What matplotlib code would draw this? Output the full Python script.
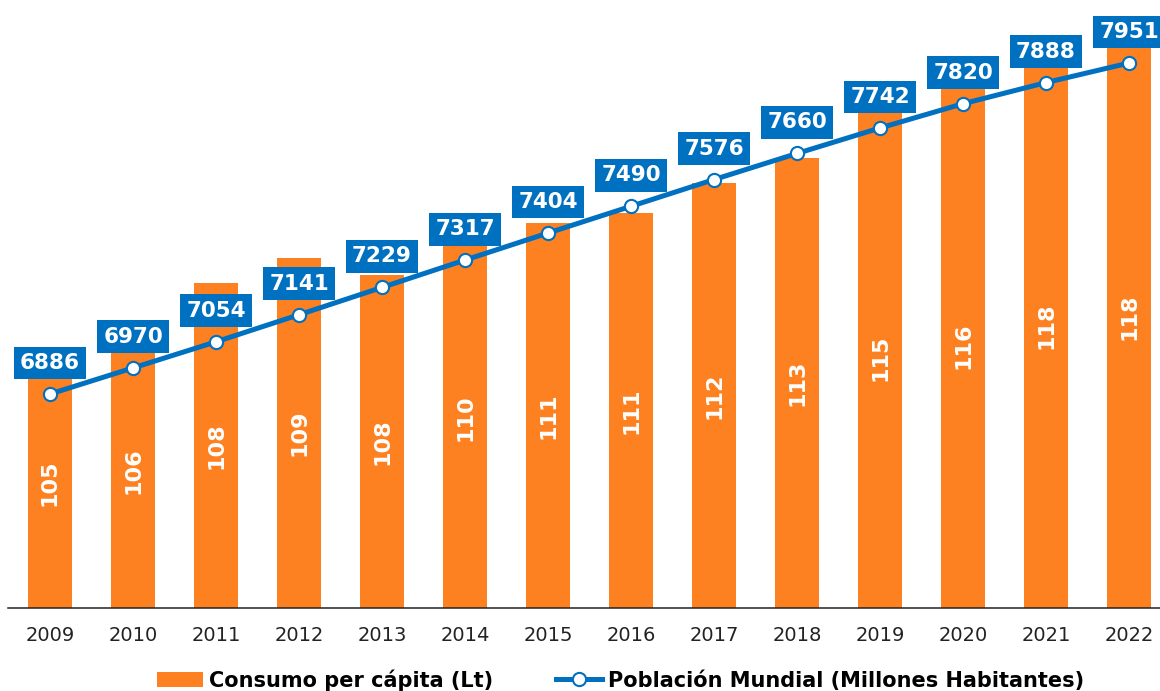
import matplotlib
matplotlib.use("Agg")

import matplotlib.pyplot as plt
import numpy as np

# Data
years = ["2009", "2010", "2011", "2012", "2013", "2014", "2015",
         "2016", "2017", "2018", "2019", "2020", "2021", "2022"]
consumo_label = [105, 106, 108, 109, 108, 110, 111, 111, 112, 113, 115, 116, 118, 118]
consumo = [105.0, 106.0, 108.0, 109.0, 108.3, 110.2, 110.4,
           110.8, 112.0, 113.0, 115.0, 116.0, 117.6, 118.3]
poblacion = [6886, 6970, 7054, 7141, 7229, 7317, 7404,
             7490, 7576, 7660, 7742, 7820, 7888, 7951]

orange = "#FD8021"
blue = "#0070C0"

plt.rcParams["font.family"] = ["DejaVu Sans"]

fig = plt.figure(figsize=(11.6, 6.91), dpi=100)
ax = fig.add_axes([8 / 1160, 83 / 691, 1 - 8 / 1160, 608 / 691])
x = np.arange(len(years))

bars = ax.bar(x, consumo, width=0.53, color=orange, zorder=1,
              label="Consumo per cápita (Lt)")
ax.set_ylim(95, 95 + 608 / 25)
ax.set_xlim(-0.506, 13.373)

# value labels inside the bars
for xi, v, lab in zip(x, consumo, consumo_label):
    ax.text(xi, (95 + v) / 2, str(lab), rotation=90, ha="center", va="center",
            color="white", fontsize=16, fontweight="bold", zorder=2)

ax.set_xticks(x)
ax.set_xticklabels(years, fontsize=14, color="#222222")
ax.tick_params(axis="x", length=0, pad=13)
ax.set_yticks([])
for s in ["top", "left", "right"]:
    ax.spines[s].set_visible(False)
ax.spines["bottom"].set_linewidth(1.1)
ax.spines["bottom"].set_color("#222222")

ax2 = ax.twinx()
ax2.set_ylim(6197.5, 8153.7)
line, = ax2.plot(x, poblacion, color=blue, lw=3.6, marker="o", markersize=9.5,
                 markerfacecolor="white", markeredgecolor=blue, markeredgewidth=1.5,
                 zorder=3, label="Población Mundial (Millones Habitantes)")
ax2.set_yticks([])
for s in ax2.spines.values():
    s.set_visible(False)

for xi, p in zip(x, poblacion):
    ax2.annotate(str(p), (xi, p), xytext=(0, 22.3), textcoords="offset points",
                 ha="center", va="center", color="white", fontsize=15.5,
                 fontweight="bold", zorder=4,
                 bbox=dict(boxstyle="square,pad=0.3", fc=blue, ec="none"))

fig.legend(handles=[bars, line], loc="center", bbox_to_anchor=(0.535, 0.016),
           ncol=2, frameon=False, prop={"weight": "bold", "size": 15},
           handlelength=2.2, handleheight=0.7, columnspacing=3.0, handletextpad=0.3)

fig.savefig("out.png", dpi=100)
